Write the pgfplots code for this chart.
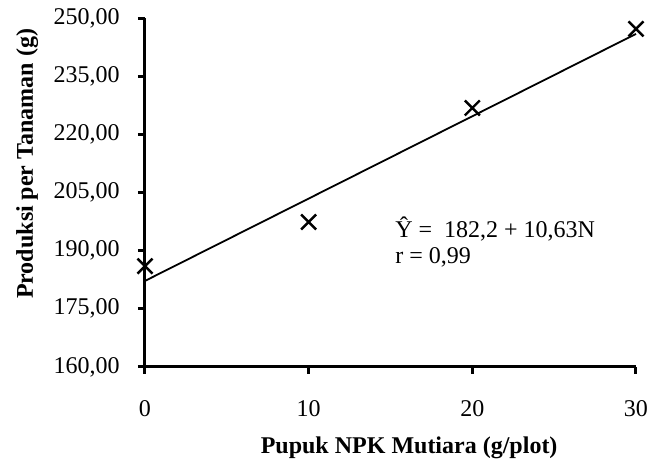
\documentclass[border=0pt]{standalone}
\usepackage{pgfplots}
\pgfplotsset{compat=1.18}
\usepackage{fontspec}
\setmainfont{Liberation Serif}
\begin{document}
\fontsize{12}{14.4}\selectfont
\begin{tikzpicture}
\begin{axis}[
  scale only axis,
  width=245.5pt, height=174.5pt,
  xmin=0, xmax=30, ymin=160, ymax=250,
  xtick={0,10,20,30}, ytick={160,175,190,205,220,235,250},
  axis x line*=bottom, axis y line*=left,
  axis line style={line width=1.5pt},
  tick style={line width=1.5pt, black},
  tick align=outside, major tick length=3.5pt,
  /pgf/number format/assume math mode=true,
  yticklabel style={/pgf/number format/fixed, /pgf/number format/fixed zerofill, /pgf/number format/precision=2, /pgf/number format/use comma, /pgf/number format/1000 sep={}, xshift=-5pt},
  xticklabel style={/pgf/number format/fixed, /pgf/number format/precision=0, yshift=-9pt, inner xsep=0pt},
  xlabel={\textbf{Pupuk NPK Mutiara (g/plot)}},
  ylabel={\textbf{Produksi per Tanaman (g)}},
  xlabel style={at={(axis description cs:0.538,-0.232)}, anchor=center},
  ylabel style={at={(axis description cs:-0.240,0.582)}, anchor=center},
  clip=false,
]
\path[draw=none] (axis description cs:-0.2953,-0.2951) rectangle (axis description cs:1.0265,1.0516);
\addplot[black, line width=0.9pt] coordinates {(0,182.2) (30,245.9)};
\addplot[only marks, mark=x, mark size=5.3pt, mark options={line width=1.2pt, black}] coordinates {
  (0,186.0) (10,197.4) (20,226.8) (30,247.2)
};
\node[anchor=base west, inner sep=0pt, align=left] at (axis cs:15.27,193.5) {Ŷ =\ \ 182,2 + 10,63N};
\node[anchor=base west, inner sep=0pt] at (axis cs:15.27,186.8) {r = 0,99};
\end{axis}
\end{tikzpicture}
\end{document}
